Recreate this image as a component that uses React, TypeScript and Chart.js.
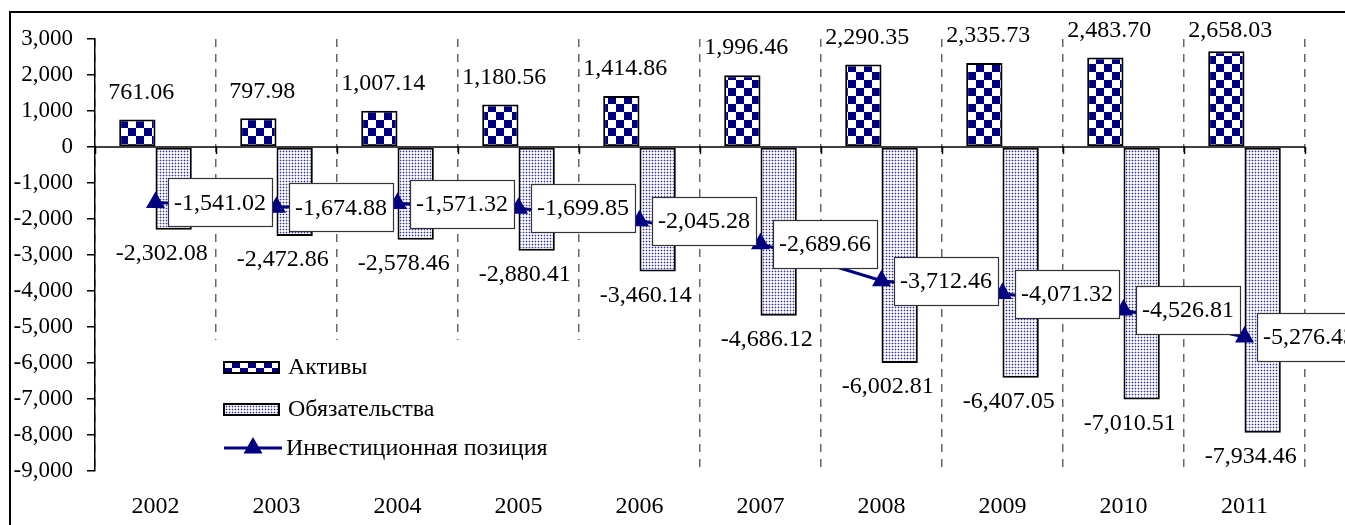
import React, { useEffect, useRef } from "react";
import { Chart, registerables } from "chart.js";

Chart.register(...registerables);

const years = ["2002", "2003", "2004", "2005", "2006", "2007", "2008", "2009", "2010", "2011"];
const assets = [761.06, 797.98, 1007.14, 1180.56, 1414.86, 1996.46, 2290.35, 2335.73, 2483.7, 2658.03];
const liabilities = [-2302.08, -2472.86, -2578.46, -2880.41, -3460.14, -4686.12, -6002.81, -6407.05, -7010.51, -7934.46];
const position = [-1541.02, -1674.88, -1571.32, -1699.85, -2045.28, -2689.66, -3712.46, -4071.32, -4526.81, -5276.43];
const seriesNames = ["Активы", "Обязательства", "Инвестиционная позиция"];
const yMin = -9000;
const yMax = 3000;
const yStep = 1000;

const FONT = '"Liberation Serif", "Times New Roman", serif';
const NAVY = "#000080";

const fmt2 = (v: number) =>
  v.toLocaleString("en-US", { minimumFractionDigits: 2, maximumFractionDigits: 2 });
const fmt0 = (v: number) => v.toLocaleString("en-US", { maximumFractionDigits: 0 });

function makeChecker(): CanvasPattern | string {
  const c = document.createElement("canvas");
  c.width = 16;
  c.height = 16;
  const g = c.getContext("2d");
  if (!g) return NAVY;
  g.fillStyle = "#fff";
  g.fillRect(0, 0, 16, 16);
  g.fillStyle = NAVY;
  g.fillRect(0, 0, 8, 8);
  g.fillRect(8, 8, 8, 8);
  return g.createPattern(c, "repeat") || NAVY;
}

function makeDots(): CanvasPattern | string {
  const c = document.createElement("canvas");
  c.width = 3;
  c.height = 3;
  const g = c.getContext("2d");
  if (!g) return "#c0c0e8";
  g.fillStyle = "#fff";
  g.fillRect(0, 0, 3, 3);
  g.fillStyle = "#c4c4ec";
  g.fillRect(0, 1, 3, 1);
  g.fillRect(1, 0, 1, 3);
  g.fillStyle = "#2a2a98";
  g.fillRect(1, 1, 1, 1);
  return g.createPattern(c, "repeat") || "#c0c0e8";
}

export default function App() {
  const ref = useRef<HTMLCanvasElement | null>(null);

  useEffect(() => {
    if (!ref.current) return;
    const checker = makeChecker();
    const dots = makeDots();

    const drawTriangle = (ctx: CanvasRenderingContext2D, x: number, y: number, r: number) => {
      ctx.beginPath();
      for (let k = 0; k < 3; k++) {
        const a = (k * 2 * Math.PI) / 3;
        const px = x + Math.sin(a) * r;
        const py = y - Math.cos(a) * r;
        if (k === 0) ctx.moveTo(px, py);
        else ctx.lineTo(px, py);
      }
      ctx.closePath();
      ctx.fill();
    };

    const axisPlugin = {
      id: "zeroTicks",
      afterDatasetsDraw(chart: any) {
        const ctx = chart.ctx as CanvasRenderingContext2D;
        const y0 = chart.scales.y.getPixelForValue(0);
        ctx.save();
        ctx.strokeStyle = "#000";
        ctx.lineWidth = 1.5;
        ctx.beginPath();
        ctx.moveTo(chart.chartArea.left, y0);
        ctx.lineTo(chart.chartArea.right, y0);
        const w = (chart.chartArea.right - chart.chartArea.left) / years.length;
        for (let i = 0; i <= years.length; i++) {
          const px = Math.round(chart.chartArea.left + i * w) + 0.5;
          ctx.moveTo(px, y0);
          ctx.lineTo(px, y0 + 7);
        }
        ctx.stroke();
        ctx.restore();
      },
    };

    const legendPlugin = {
      id: "customLegend",
      afterDatasetsDraw(chart: any) {
        const ctx = chart.ctx as CanvasRenderingContext2D;
        const bottom = chart.chartArea.bottom;
        ctx.save();
        ctx.fillStyle = "#fff";
        ctx.fillRect(206, 340, 384, bottom - 341);
        ctx.font = `24px ${FONT}`;
        ctx.textAlign = "left";
        ctx.textBaseline = "middle";
        ctx.fillStyle = checker as any;
        ctx.fillRect(224, 362, 55, 11);
        ctx.strokeStyle = "#000";
        ctx.lineWidth = 2;
        ctx.strokeRect(224, 362, 55, 11);
        ctx.fillStyle = "#000";
        ctx.fillText(seriesNames[0], 288, 368);
        ctx.fillStyle = dots as any;
        ctx.fillRect(224, 404, 55, 11);
        ctx.strokeRect(224, 404, 55, 11);
        ctx.fillStyle = "#000";
        ctx.fillText(seriesNames[1], 288, 410);
        ctx.strokeStyle = NAVY;
        ctx.lineWidth = 3;
        ctx.beginPath();
        ctx.moveTo(224, 448);
        ctx.lineTo(282, 448);
        ctx.stroke();
        ctx.fillStyle = NAVY;
        drawTriangle(ctx, 253, 448, 11);
        ctx.fillStyle = "#000";
        ctx.fillText(seriesNames[2], 286, 449);
        ctx.restore();
      },
    };

    const labelPlugin = {
      id: "valueLabels",
      afterDatasetsDraw(chart: any) {
        const ctx = chart.ctx as CanvasRenderingContext2D;
        const top = chart.chartArea.top;
        ctx.save();
        ctx.font = `24px ${FONT}`;
        ctx.fillStyle = "#000";
        ctx.textAlign = "center";
        ctx.textBaseline = "middle";
        chart.getDatasetMeta(0).data.forEach((bar: any, i: number) => {
          const y = Math.max(bar.y - 27, top - 8);
          ctx.fillText(fmt2(assets[i]), bar.x + 4, y);
        });
        chart.getDatasetMeta(1).data.forEach((bar: any, i: number) => {
          ctx.fillText(fmt2(liabilities[i]), bar.x - 12, bar.y + 24);
        });
        ctx.textAlign = "left";
        chart.getDatasetMeta(2).data.forEach((pt: any, i: number) => {
          const t = fmt2(position[i]);
          const w = Math.round(ctx.measureText(t).width + 12);
          const bx = Math.round(pt.x + 12);
          const by = Math.round(pt.y - 24);
          ctx.fillStyle = "#fff";
          ctx.fillRect(bx, by, w, 48);
          ctx.strokeStyle = "#333";
          ctx.lineWidth = 1.2;
          ctx.strokeRect(bx + 0.5, by + 0.5, w, 48);
          ctx.fillStyle = "#000";
          ctx.fillText(t, bx + 6, pt.y + 1);
        });
        ctx.restore();
      },
    };

    const chart = new Chart(ref.current, {
      type: "bar",
      data: {
        labels: years,
        datasets: [
          {
            type: "bar",
            label: seriesNames[0],
            data: assets,
            backgroundColor: checker as any,
            borderColor: "#000",
            borderWidth: 2,
            borderSkipped: false,
            categoryPercentage: 0.6,
            barPercentage: 1.0,
            order: 1,
          },
          {
            type: "bar",
            label: seriesNames[1],
            data: liabilities,
            backgroundColor: dots as any,
            borderColor: "#000",
            borderWidth: 2,
            borderSkipped: false,
            categoryPercentage: 0.6,
            barPercentage: 1.0,
            order: 1,
          },
          {
            type: "line",
            label: seriesNames[2],
            data: position,
            borderColor: NAVY,
            borderWidth: 3,
            backgroundColor: NAVY,
            pointStyle: "triangle",
            pointRadius: 11,
            pointBackgroundColor: NAVY,
            pointBorderColor: NAVY,
            pointBorderWidth: 0,
            tension: 0,
            order: 0,
          } as any,
        ],
      },
      options: {
        animation: false,
        responsive: true,
        maintainAspectRatio: false,
        layout: { padding: { top: 39, right: 40, left: 0, bottom: 0 } },
        plugins: {
          legend: { display: false },
          tooltip: { enabled: false },
        },
        scales: {
          x: {
            offset: true,
            grid: {
              offset: true,
              color: "#666",
              lineWidth: 1.5,
              drawTicks: false,
            },
            border: { display: false, dash: [8, 7] },
            ticks: {
              color: "#000",
              font: { family: FONT, size: 24 },
              padding: 21,
            },
            afterFit: (s: any) => {
              s.height = 54;
            },
          },
          y: {
            min: yMin,
            max: yMax,
            ticks: {
              stepSize: yStep,
              color: "#000",
              font: { family: FONT, size: 23 },
              padding: 14,
              callback: (v: any) => fmt0(Number(v)),
            },
            grid: {
              color: "transparent",
              tickColor: "#000",
              tickLength: 8,
              lineWidth: 1.5,
            },
            border: { display: true, color: "#000", width: 1.5 },
            afterFit: (s: any) => {
              s.width = 95;
            },
          },
        },
      },
      plugins: [axisPlugin, legendPlugin, labelPlugin],
    });
    return () => chart.destroy();
  }, []);

  return (
    <div
      style={{
        position: "fixed",
        left: 0,
        top: 0,
        width: 1345,
        height: 525,
        overflow: "hidden",
        background: "#fff",
      }}
    >
      <div
        style={{
          position: "absolute",
          left: 9,
          top: 11,
          width: 1400,
          height: 600,
          border: "2px solid #000",
          boxSizing: "border-box",
        }}
      />
      <div style={{ position: "absolute", left: 0, top: 0, width: 1345, height: 525 }}>
        <canvas ref={ref} />
      </div>
    </div>
  );
}
